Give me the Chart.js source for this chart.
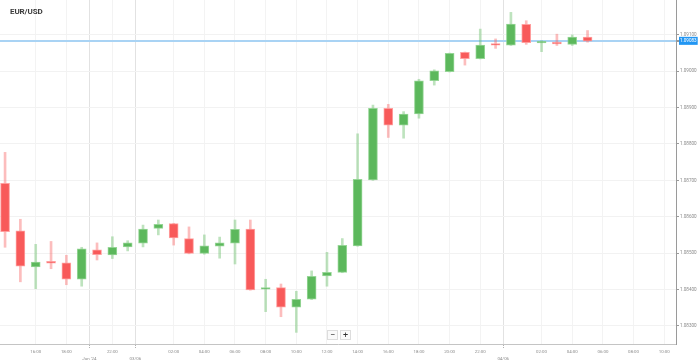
<!DOCTYPE html>
<html lang="en">
<head>
<meta charset="UTF-8">
<title>EUR/USD</title>
<style>
  html, body { margin: 0; padding: 0; background: #fff; }
  #wrap { position: relative; width: 699px; height: 361px; }
  #title { position: absolute; left: 10px; top: 7px; font: bold 8px Roboto, sans-serif; color: #3a3a3a; letter-spacing: -0.1px; }
  #zoom { position: absolute; left: 327px; top: 330px; display: flex; gap: 2px; }
  #zoom span { width: 9px; height: 8px; border: 1px solid #ddd; background: #fafafa; font: 9px/8px Roboto, sans-serif; text-align: center; color: #333; }
</style>
</head>
<body>
<div id="wrap">
  <canvas id="myChart" width="699" height="361"></canvas>
  <div id="title">EUR/USD</div>
  <div id="zoom"><span>−</span><span>+</span></div>
</div>

<script src="https://cdn.jsdelivr.net/npm/chart.js"></script>
<script>
// hourly candles, EUR/USD
const opens  = [1.08692, 1.08561, 1.08462, 1.08477, 1.08473, 1.08428, 1.08509, 1.08495, 1.08517, 1.08527,
                1.08568, 1.08581, 1.08540, 1.08499, 1.08519, 1.08527, 1.08566, 1.08401, 1.08405, 1.08351,
                1.08373, 1.08437, 1.08447, 1.08520, 1.08701, 1.08898, 1.08852, 1.08883, 1.08974, 1.08999,
                1.09052, 1.09035, 1.09075, 1.09072, 1.09129, 1.09078, 1.09080, 1.09074, 1.09094];
const highs  = [1.08777, 1.08593, 1.08524, 1.08532, 1.08494, 1.08516, 1.08528, 1.08545, 1.08534, 1.08577,
                1.08591, 1.08582, 1.08572, 1.08550, 1.08544, 1.08591, 1.08591, 1.08428, 1.08415, 1.08395,
                1.08451, 1.08502, 1.08540, 1.08828, 1.08907, 1.08909, 1.08889, 1.08978, 1.09004, 1.09050,
                1.09053, 1.09116, 1.09089, 1.09162, 1.09139, 1.09084, 1.09102, 1.09100, 1.09112];
const lows   = [1.08516, 1.08421, 1.08402, 1.08457, 1.08413, 1.08409, 1.08481, 1.08485, 1.08506, 1.08517,
                1.08550, 1.08522, 1.08498, 1.08497, 1.08486, 1.08470, 1.08398, 1.08339, 1.08325, 1.08282,
                1.08372, 1.08409, 1.08446, 1.08519, 1.08700, 1.08818, 1.08816, 1.08871, 1.08962, 1.08998,
                1.09017, 1.09034, 1.09063, 1.09071, 1.09074, 1.09054, 1.09071, 1.09071, 1.09080];
const closes = [1.08559, 1.08464, 1.08475, 1.08472, 1.08428, 1.08512, 1.08496, 1.08516, 1.08528, 1.08566,
                1.08579, 1.08542, 1.08499, 1.08520, 1.08528, 1.08565, 1.08399, 1.08404, 1.08351, 1.08373,
                1.08436, 1.08447, 1.08521, 1.08703, 1.08898, 1.08852, 1.08882, 1.08974, 1.09001, 1.09049,
                1.09035, 1.09072, 1.09072, 1.09130, 1.09079, 1.09081, 1.09075, 1.09094, 1.09083];

const lastPrice = 1.09083;
const priceTicks = [1.083, 1.084, 1.085, 1.086, 1.087, 1.088, 1.089, 1.090, 1.091];

// x positions are candle slots (one per hour, weekend removed)
const timeTickPos    = [2, 4, 7, 11, 13, 15, 17, 19, 21, 23, 25, 27, 29, 31, 35, 37, 39, 41, 43];
const timeTickLabels = ['16:00', '18:00', '22:00', '02:00', '04:00', '06:00', '08:00', '10:00', '12:00',
                        '14:00', '16:00', '18:00', '20:00', '22:00', '02:00', '04:00', '06:00', '08:00', '10:00'];
const dateTickPos    = [5.5, 8.5, 32.5];
const dateTickLabels = ["Jun '24", '03/06', '04/06'];

const UP = '#5cb85c', DOWN = '#f85a5a';
const UP_WICK = 'rgba(92,184,92,0.4)', DOWN_WICK = 'rgba(248,90,90,0.4)';

const isUp = opens.map((o, i) => closes[i] >= o);

const xTicks = timeTickPos.map((p, i) => ({ value: p, label: timeTickLabels[i], date: false }))
  .concat(dateTickPos.map((p, i) => ({ value: p, label: dateTickLabels[i], date: true })));

function isDate(ctx) {
  return ctx.tick && dateTickPos.includes(ctx.tick.value);
}
function isLast(ctx) {
  return ctx.tick && ctx.tick.value === lastPrice;
}
function noPadding(s) {
  s.paddingTop = 0;
  s.paddingBottom = 0;
  s.paddingLeft = 0;
  s.paddingRight = 0;
}

const ctx = document.getElementById('myChart').getContext('2d');

new Chart(ctx, {
  type: 'bar',
  data: {
    datasets: [
      {
        label: 'body',
        data: opens.map((o, i) => ({ x: i, y: [o, closes[i]] })),
        backgroundColor: isUp.map(u => u ? UP : DOWN),
        borderColor: isUp.map(u => u ? 'rgba(140,210,140,0.9)' : 'rgba(255,150,150,0.9)'),
        borderWidth: 1,
        borderSkipped: false,
        barThickness: 9,
        minBarLength: 1.5,
        grouped: false,
        order: 1
      },
      {
        label: 'wick',
        data: lows.map((l, i) => ({ x: i, y: [l, highs[i]] })),
        backgroundColor: isUp.map(u => u ? UP_WICK : DOWN_WICK),
        barThickness: 2,
        grouped: false,
        order: 2
      }
    ]
  },
  options: {
    responsive: false,
    animation: false,
    devicePixelRatio: 1,
    layout: { padding: 0 },
    plugins: {
      legend: { display: false },
      tooltip: { enabled: false }
    },
    scales: {
      x: {
        type: 'linear',
        position: 'bottom',
        min: -0.33,
        max: 43.77,
        offset: false,
        afterFit: s => { s.height = 17; noPadding(s); },
        afterBuildTicks: s => { s.ticks = xTicks.map(t => ({ value: t.value })); },
        grid: {
          offset: false,
          color: c => isDate(c) ? '#e2e2e2' : '#f3f3f3',
          tickColor: c => isDate(c) ? '#b0b0b0' : 'rgba(0,0,0,0)',
          tickBorderDash: [1, 1],
          tickLength: 4
        },
        border: { color: '#c4c4c4' },
        ticks: {
          autoSkip: false,
          maxRotation: 0,
          padding: 0,
          color: '#8a8a8a',
          font: { family: 'Roboto', size: 4.4, lineHeight: 1.7 },
          callback: (v, i) => {
            const t = xTicks[i];
            return t.date ? ['', t.label] : t.label;
          }
        }
      },
      y: {
        type: 'linear',
        position: 'right',
        min: 1.0825,
        max: 1.09196,
        afterFit: s => { s.width = 23; noPadding(s); },
        afterBuildTicks: s => { s.ticks = priceTicks.concat([lastPrice]).map(v => ({ value: v })); },
        grid: {
          color: c => isLast(c) ? '#a9d3f4' : '#f2f2f2',
          lineWidth: c => isLast(c) ? 2 : 1,
          tickColor: '#9a9a9a',
          tickLength: 3
        },
        border: { color: '#9a9a9a' },
        ticks: {
          autoSkip: false,
          padding: 1,
          color: c => isLast(c) ? '#ffffff' : '#8a8a8a',
          font: { family: 'Roboto', size: 4.6 },
          showLabelBackdrop: c => isLast(c),
          backdropColor: c => isLast(c) ? '#2196f3' : 'rgba(0,0,0,0)',
          backdropPadding: { top: 1.5, bottom: 1, left: 1, right: 1 },
          callback: v => v.toFixed(5)
        }
      }
    }
  }
});
</script>
</body>
</html>
